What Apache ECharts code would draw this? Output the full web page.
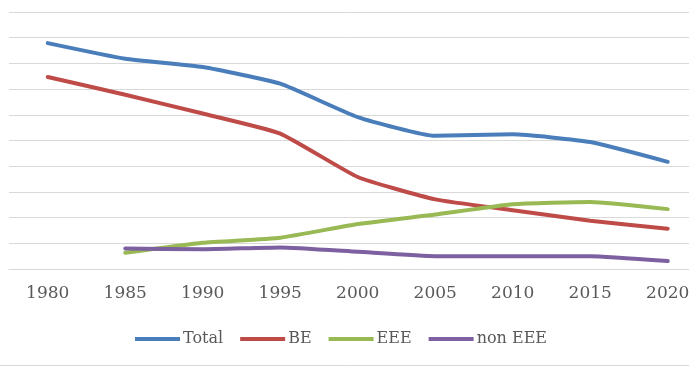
<!DOCTYPE html>
<html>
<head>
<meta charset="utf-8">
<script src="https://cdn.jsdelivr.net/npm/echarts@6/dist/echarts.min.js"></script>
<style>
  html, body { margin: 0; padding: 0; background: #fff; }
  #chart { width: 689px; height: 367px; }
</style>
</head>
<body>
<div id="chart"></div>
<script>
(function () {
    "use strict";

    var years = ['1980', '1985', '1990', '1995', '2000', '2005', '2010', '2015', '2020'];
    var total = [8.79, 8.18, 7.86, 7.21, 5.91, 5.18, 5.24, 4.94, 4.17];
    var be = [7.47, 6.78, 6.05, 5.27, 3.58, 2.71, 2.29, 1.88, 1.57];
    var eee = [null, 0.63, 1.02, 1.22, 1.75, 2.12, 2.52, 2.61, 2.33];
    var nonEee = [null, 0.80, 0.77, 0.84, 0.67, 0.50, 0.50, 0.50, 0.31];

    var font = "'DejaVu Serif', 'Liberation Serif', serif";

    function line(name, data, color) {
        return {
            name: name,
            type: 'line',
            data: data,
            smooth: 0.15,
            showSymbol: false,
            symbol: 'none',
            lineStyle: { width: 4, color: color, cap: 'round', join: 'round' },
            itemStyle: { color: color }
        };
    }

    var dom = document.getElementById("chart");
    var myChart = echarts.init(dom);

    var option = {
        animation: false,
        backgroundColor: '#fff',
        grid: {
            left: 9,
            top: 12,
            width: 697.5,
            height: 257,
            outerBoundsMode: 'none',
            containLabel: false
        },
        legend: {
            top: 326,
            left: 130,
            itemWidth: 45,
            itemHeight: 4,
            itemGap: 17,
            icon: 'rect',
            textStyle: { fontFamily: font, fontSize: 16, color: '#595959', padding: [0, 0, 0, -2] },
            data: ['Total', 'BE', 'EEE', 'non EEE']
        },
        xAxis: {
            type: 'category',
            data: years,
            boundaryGap: true,
            axisLine: { show: true, lineStyle: { color: '#d9d9d9', width: 1 } },
            axisTick: { show: false },
            axisLabel: { fontFamily: font, fontSize: 17, color: '#595959', margin: 16 }
        },
        yAxis: {
            type: 'value',
            min: 0,
            max: 10,
            interval: 1,
            axisLine: { show: false },
            axisTick: { show: false },
            axisLabel: { show: false },
            splitLine: { lineStyle: { color: '#d9d9d9', width: 1 } }
        },
        series: [
            line('Total', total, '#4a7ebb'),
            line('BE', be, '#be4b48'),
            line('EEE', eee, '#98b954'),
            line('non EEE', nonEee, '#7d60a0')
        ],
        graphic: [{
            type: 'line',
            shape: { x1: 0, y1: 365.5, x2: 689, y2: 365.5 },
            style: { stroke: '#d9d9d9', lineWidth: 1 }
        }]
    };

    if (option && typeof option === "object") {
        myChart.setOption(option, true);
    }
})();
</script>
</body>
</html>
